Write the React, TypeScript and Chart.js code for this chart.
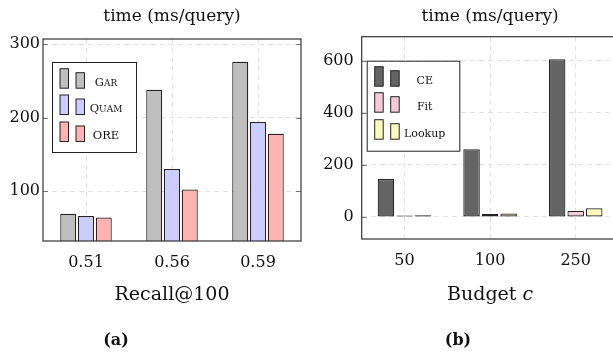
import React, { useEffect, useRef } from "react";
import { Chart, registerables } from "chart.js";
Chart.register(...registerables);

// ---- Panel (a) data ----
const recallCategories = ["0.51", "0.56", "0.59"];
const garValues = [69, 238, 276];
const quamValues = [66, 130, 194];
const oreValues = [64, 102, 178];
const recallTicks = [100, 200, 300];
const recallLabels = ["Gar", "Quam", "ORE"];

// ---- Panel (b) data ----
const budgetCategories = ["50", "100", "250"];
const ceValues = [146, 260, 606];
const fitValues = [5, 11, 23];
const lookupValues = [6, 13, 33];
const budgetTicks = [0, 200, 400, 600];
const budgetLabels = ["CE", "Fit", "Lookup"];

const FONT = "'DejaVu Serif', 'Liberation Serif', serif";
const INK = "#111111";

type Series = { label: string; data: number[]; color: string };

type PanelSpec = {
  left: number;
  width: number;
  categories: string[];
  series: Series[];
  yMin: number;
  yMax: number;
  yTicks: number[];
  padTop: number;
  padRight: number;
  yWidth: number;
  xHeight: number;
  yTickPad: number;
  xTickPad: number;
  catPct: number;
  barPct: number;
  xTitle: { text: string; italic?: boolean }[];
  caption: string;
  captionX: number;
  smallCaps: boolean;
  legend: { dx: number; dy: number; w: number; h: number; labelDx: number; rows: number[] };
};

function drawSmallCaps(ctx: CanvasRenderingContext2D, text: string, cx: number, y: number, size: number) {
  const small = size * 0.78;
  const parts = text.split("").map((ch) => {
    const isLower = ch !== ch.toUpperCase();
    return { ch: ch.toUpperCase(), size: isLower ? small : size };
  });
  let total = 0;
  for (const p of parts) {
    ctx.font = `${p.size}px ${FONT}`;
    total += ctx.measureText(p.ch).width;
  }
  let x = cx - total / 2;
  ctx.textAlign = "left";
  for (const p of parts) {
    ctx.font = `${p.size}px ${FONT}`;
    ctx.fillText(p.ch, x, y);
    x += ctx.measureText(p.ch).width;
  }
}

function makePlugin(spec: PanelSpec) {
  return {
    id: "panelDecor",
    afterDatasetsDraw(chart: any) {
      const ctx: CanvasRenderingContext2D = chart.ctx;
      const a = chart.chartArea;
      const yScale = chart.scales.y;
      ctx.save();
      // inner tick marks
      ctx.strokeStyle = "#777";
      ctx.lineWidth = 1;
      for (const v of spec.yTicks) {
        const py = Math.round(yScale.getPixelForValue(v)) + 0.5;
        ctx.beginPath();
        ctx.moveTo(a.left, py);
        ctx.lineTo(a.left + 5, py);
        ctx.moveTo(a.right - 5, py);
        ctx.lineTo(a.right, py);
        ctx.stroke();
      }
      // axis box
      ctx.strokeStyle = "#333";
      ctx.lineWidth = 1.2;
      ctx.strokeRect(a.left, a.top, a.right - a.left, a.bottom - a.top);

      // legend
      const L = spec.legend;
      const bx = a.left + L.dx;
      const by = a.top + L.dy;
      ctx.fillStyle = "#ffffff";
      ctx.fillRect(bx, by, L.w, L.h);
      ctx.strokeStyle = "#222";
      ctx.lineWidth = 1;
      ctx.strokeRect(bx + 0.5, by + 0.5, L.w, L.h);
      spec.series.forEach((s, i) => {
        const cy = by + L.rows[i];
        ctx.fillStyle = s.color;
        ctx.strokeStyle = "#222";
        ctx.lineWidth = 1;
        ctx.fillRect(bx + 8, cy - 13, 8.5, 19.5);
        ctx.strokeRect(bx + 8, cy - 13, 8.5, 19.5);
        ctx.fillRect(bx + 24, cy - 9, 8.5, 15.5);
        ctx.strokeRect(bx + 24, cy - 9, 8.5, 15.5);
        ctx.fillStyle = INK;
        ctx.textBaseline = "alphabetic";
        if (spec.smallCaps) {
          drawSmallCaps(ctx, s.label, bx + L.labelDx, cy + 4, 11.5);
        } else {
          ctx.font = `11px ${FONT}`;
          ctx.textAlign = "center";
          ctx.fillText(s.label, bx + L.labelDx, cy + 4);
        }
      });
      ctx.restore();
    },
    afterDraw(chart: any) {
      const ctx: CanvasRenderingContext2D = chart.ctx;
      const a = chart.chartArea;
      const cx = (a.left + a.right) / 2;
      ctx.save();
      ctx.fillStyle = INK;
      ctx.textBaseline = "middle";
      ctx.textAlign = "center";
      ctx.font = `17px ${FONT}`;
      ctx.fillText("time (ms/query)", cx, 17);
      // x axis title (possibly mixed italic)
      let total = 0;
      for (const part of spec.xTitle) {
        ctx.font = `${part.italic ? "italic " : ""}19px ${FONT}`;
        total += ctx.measureText(part.text).width;
      }
      let x = cx - total / 2;
      ctx.textAlign = "left";
      for (const part of spec.xTitle) {
        ctx.font = `${part.italic ? "italic " : ""}19px ${FONT}`;
        ctx.fillText(part.text, x, 295);
        x += ctx.measureText(part.text).width;
      }
      ctx.textAlign = "center";
      ctx.font = `bold 16px ${FONT}`;
      ctx.fillText(spec.caption, spec.captionX, 341);
      ctx.restore();
    },
  };
}

function Panel({ spec }: { spec: PanelSpec }) {
  const ref = useRef<HTMLCanvasElement | null>(null);
  useEffect(() => {
    if (!ref.current) return;
    const gridColor = "#e2e2e2";
    const chart = new Chart(ref.current, {
      type: "bar",
      data: {
        labels: spec.categories,
        datasets: spec.series.map((s) => ({
          label: s.label,
          data: s.data,
          backgroundColor: s.color,
          borderColor: "#222222",
          borderWidth: 1.2,
          borderSkipped: false,
          categoryPercentage: spec.catPct,
          barPercentage: spec.barPct,
        })),
      },
      options: {
        animation: false,
        responsive: false,
        maintainAspectRatio: false,
        layout: { padding: { top: spec.padTop, right: spec.padRight, bottom: 0, left: 0 } },
        plugins: { legend: { display: false }, tooltip: { enabled: false }, title: { display: false } },
        scales: {
          x: {
            offset: true,
            grid: { offset: false, color: gridColor, drawTicks: false, lineWidth: 1 },
            border: { display: false, dash: [5, 4] },
            ticks: { font: { family: FONT, size: 16 }, color: INK, padding: spec.xTickPad },
            afterFit: (s: any) => {
              s.height = spec.xHeight;
            },
          },
          y: {
            min: spec.yMin,
            max: spec.yMax,
            grid: { color: gridColor, drawTicks: false, lineWidth: 1 },
            border: { display: false, dash: [5, 4] },
            ticks: { font: { family: FONT, size: 16 }, color: INK, padding: spec.yTickPad },
            afterBuildTicks: (s: any) => {
              s.ticks = spec.yTicks.map((v) => ({ value: v }));
            },
            afterFit: (s: any) => {
              s.width = spec.yWidth;
            },
          },
        },
      } as any,
      plugins: [makePlugin(spec) as any],
    });
    return () => chart.destroy();
  }, [spec]);
  return (
    <canvas
      ref={ref}
      width={spec.width}
      height={354}
      style={{ position: "absolute", left: spec.left, top: 0, width: spec.width, height: 354 }}
    />
  );
}

const panelA: PanelSpec = {
  left: 0,
  width: 305,
  categories: recallCategories,
  series: [
    { label: recallLabels[0], data: garValues, color: "#bfbfbf" },
    { label: recallLabels[1], data: quamValues, color: "#ccccff" },
    { label: recallLabels[2], data: oreValues, color: "#ffb3b3" },
  ],
  yMin: 32,
  yMax: 307,
  yTicks: recallTicks,
  padTop: 39,
  padRight: 4,
  yWidth: 43,
  xHeight: 113,
  yTickPad: 3,
  xTickPad: 12,
  catPct: 0.62,
  barPct: 0.9,
  xTitle: [{ text: "Recall@100" }],
  caption: "(a)",
  captionX: 116,
  smallCaps: true,
  legend: { dx: 9, dy: 23, w: 84, h: 90, labelDx: 54, rows: [19.7, 46, 73] },
};

const panelB: PanelSpec = {
  left: 305,
  width: 318,
  categories: budgetCategories,
  series: [
    { label: budgetLabels[0], data: ceValues, color: "#646464" },
    { label: budgetLabels[1], data: fitValues, color: "#f4cad8" },
    { label: budgetLabels[2], data: lookupValues, color: "#fffbbf" },
  ],
  yMin: -85,
  yMax: 693,
  yTicks: budgetTicks,
  padTop: 36.7,
  padRight: 4.5,
  yWidth: 56.7,
  xHeight: 115,
  yTickPad: 8,
  xTickPad: 12,
  catPct: 0.65,
  barPct: 0.89,
  xTitle: [{ text: "Budget " }, { text: "c", italic: true }],
  caption: "(b)",
  captionX: 153,
  smallCaps: false,
  legend: { dx: 5, dy: 24, w: 92.6, h: 90, labelDx: 58, rows: [19, 45, 72] },
};

export default function App() {
  return (
    <div
      style={{
        position: "absolute",
        left: 0,
        top: 0,
        width: 613,
        height: 354,
        overflow: "hidden",
        background: "#ffffff",
      }}
    >
      <Panel spec={panelA} />
      <Panel spec={panelB} />
    </div>
  );
}
